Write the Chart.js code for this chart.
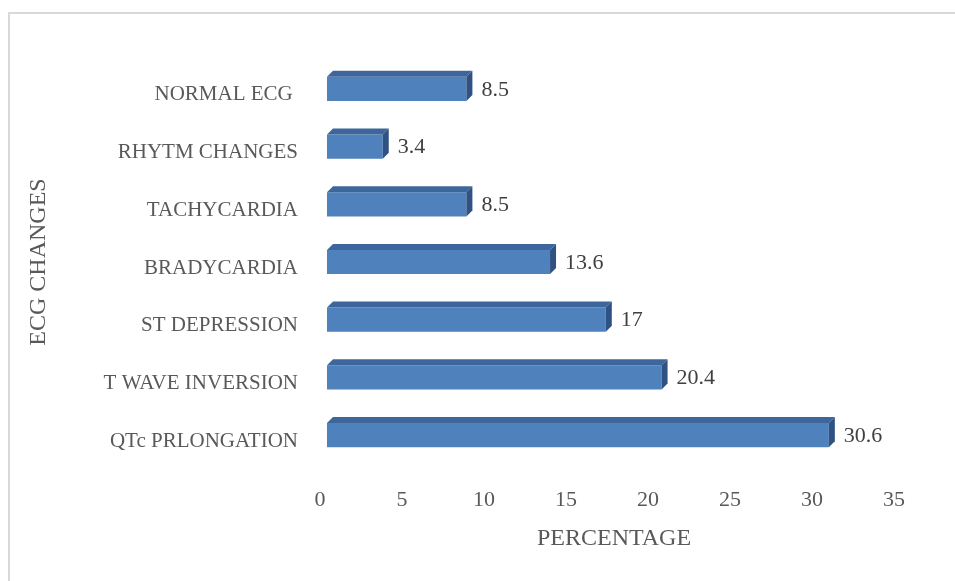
<!DOCTYPE html>
<html>
<head>
<meta charset="utf-8">
<script src="https://cdn.jsdelivr.net/npm/chart.js@4/dist/chart.umd.min.js"></script>
<style>
  html, body { margin: 0; padding: 0; background: #ffffff; }
  #wrap { position: relative; width: 955px; height: 581px; overflow: hidden; }
  #frame { position: absolute; left: 8px; top: 12px; width: 1000px; height: 1000px; border: 2px solid #d9d9d9; box-sizing: border-box; }
  canvas { position: absolute; left: 0; top: 0; }
</style>
</head>
<body>
<div id="wrap">
  <div id="frame"></div>
  <canvas id="c" width="955" height="581"></canvas>
</div>
<script>
const categories = ["NORMAL ECG ", "RHYTM CHANGES", "TACHYCARDIA", "BRADYCARDIA", "ST DEPRESSION", "T WAVE INVERSION", "QTc PRLONGATION"];
const percentages = [8.5, 3.4, 8.5, 13.6, 17, 20.4, 30.6];
const xTitle = "PERCENTAGE";
const yTitle = "ECG CHANGES";

const FRONT = "#4f81bd";
const TOPF = "#3d679c";
const SIDE = "#2f5282";
const DEPTH = 6;
const FONT = "'Liberation Serif', 'Times New Roman', serif";

Chart.defaults.font.family = FONT;
Chart.defaults.font.size = 21;
Chart.defaults.color = "#595959";

const bars3d = {
  id: "bars3d",
  afterDatasetsDraw(chart) {
    const ctx = chart.ctx;
    const meta = chart.getDatasetMeta(0);
    ctx.save();
    meta.data.forEach((el, i) => {
      const p = el.getProps(["x", "y", "base", "height"], true);
      const top = p.y - p.height / 2;
      const bottom = p.y + p.height / 2;
      const left = p.base, right = p.x;
      ctx.fillStyle = TOPF;
      ctx.beginPath();
      ctx.moveTo(left, top);
      ctx.lineTo(left + DEPTH, top - DEPTH);
      ctx.lineTo(right + DEPTH, top - DEPTH);
      ctx.lineTo(right, top);
      ctx.closePath();
      ctx.fill();
      ctx.fillStyle = SIDE;
      ctx.beginPath();
      ctx.moveTo(right, top);
      ctx.lineTo(right + DEPTH, top - DEPTH);
      ctx.lineTo(right + DEPTH, bottom - DEPTH);
      ctx.lineTo(right, bottom);
      ctx.closePath();
      ctx.fill();
      ctx.fillStyle = "#404040";
      ctx.font = "22px " + FONT;
      ctx.textAlign = "left";
      ctx.textBaseline = "middle";
      ctx.fillText(String(percentages[i]), right + 15, p.y + 1);
    });
    ctx.restore();
  }
};

new Chart(document.getElementById("c"), {
  type: "bar",
  data: {
    labels: categories,
    datasets: [{
      data: percentages,
      backgroundColor: FRONT,
      borderWidth: 0,
      categoryPercentage: 1,
      barPercentage: 0.42
    }]
  },
  options: {
    indexAxis: "y",
    responsive: false,
    animation: false,
    devicePixelRatio: 1,
    layout: { padding: { left: 0, right: 54, top: 60, bottom: 0 } },
    plugins: { legend: { display: false }, tooltip: { enabled: false } },
    scales: {
      x: {
        min: 0, max: 35,
        grid: { display: false },
        border: { display: false },
        ticks: { stepSize: 5, padding: 15, labelOffset: -7, color: "#595959", font: { size: 22 } },
        title: { display: true, text: xTitle, padding: { top: 4, bottom: 28 }, color: "#595959", font: { size: 24 } },
        afterFit(scale) { scale.height = 117; }
      },
      y: {
        grid: { display: false },
        border: { display: false },
        ticks: { padding: 21, labelOffset: 6, color: "#595959", autoSkip: false, font: { size: 21 } },
        title: { display: true, text: yTitle, padding: { top: 24, bottom: 4 }, color: "#595959", font: { size: 24 } },
        afterFit(scale) { scale.width = 327; }
      }
    }
  },
  plugins: [bars3d]
});
</script>
</body>
</html>
